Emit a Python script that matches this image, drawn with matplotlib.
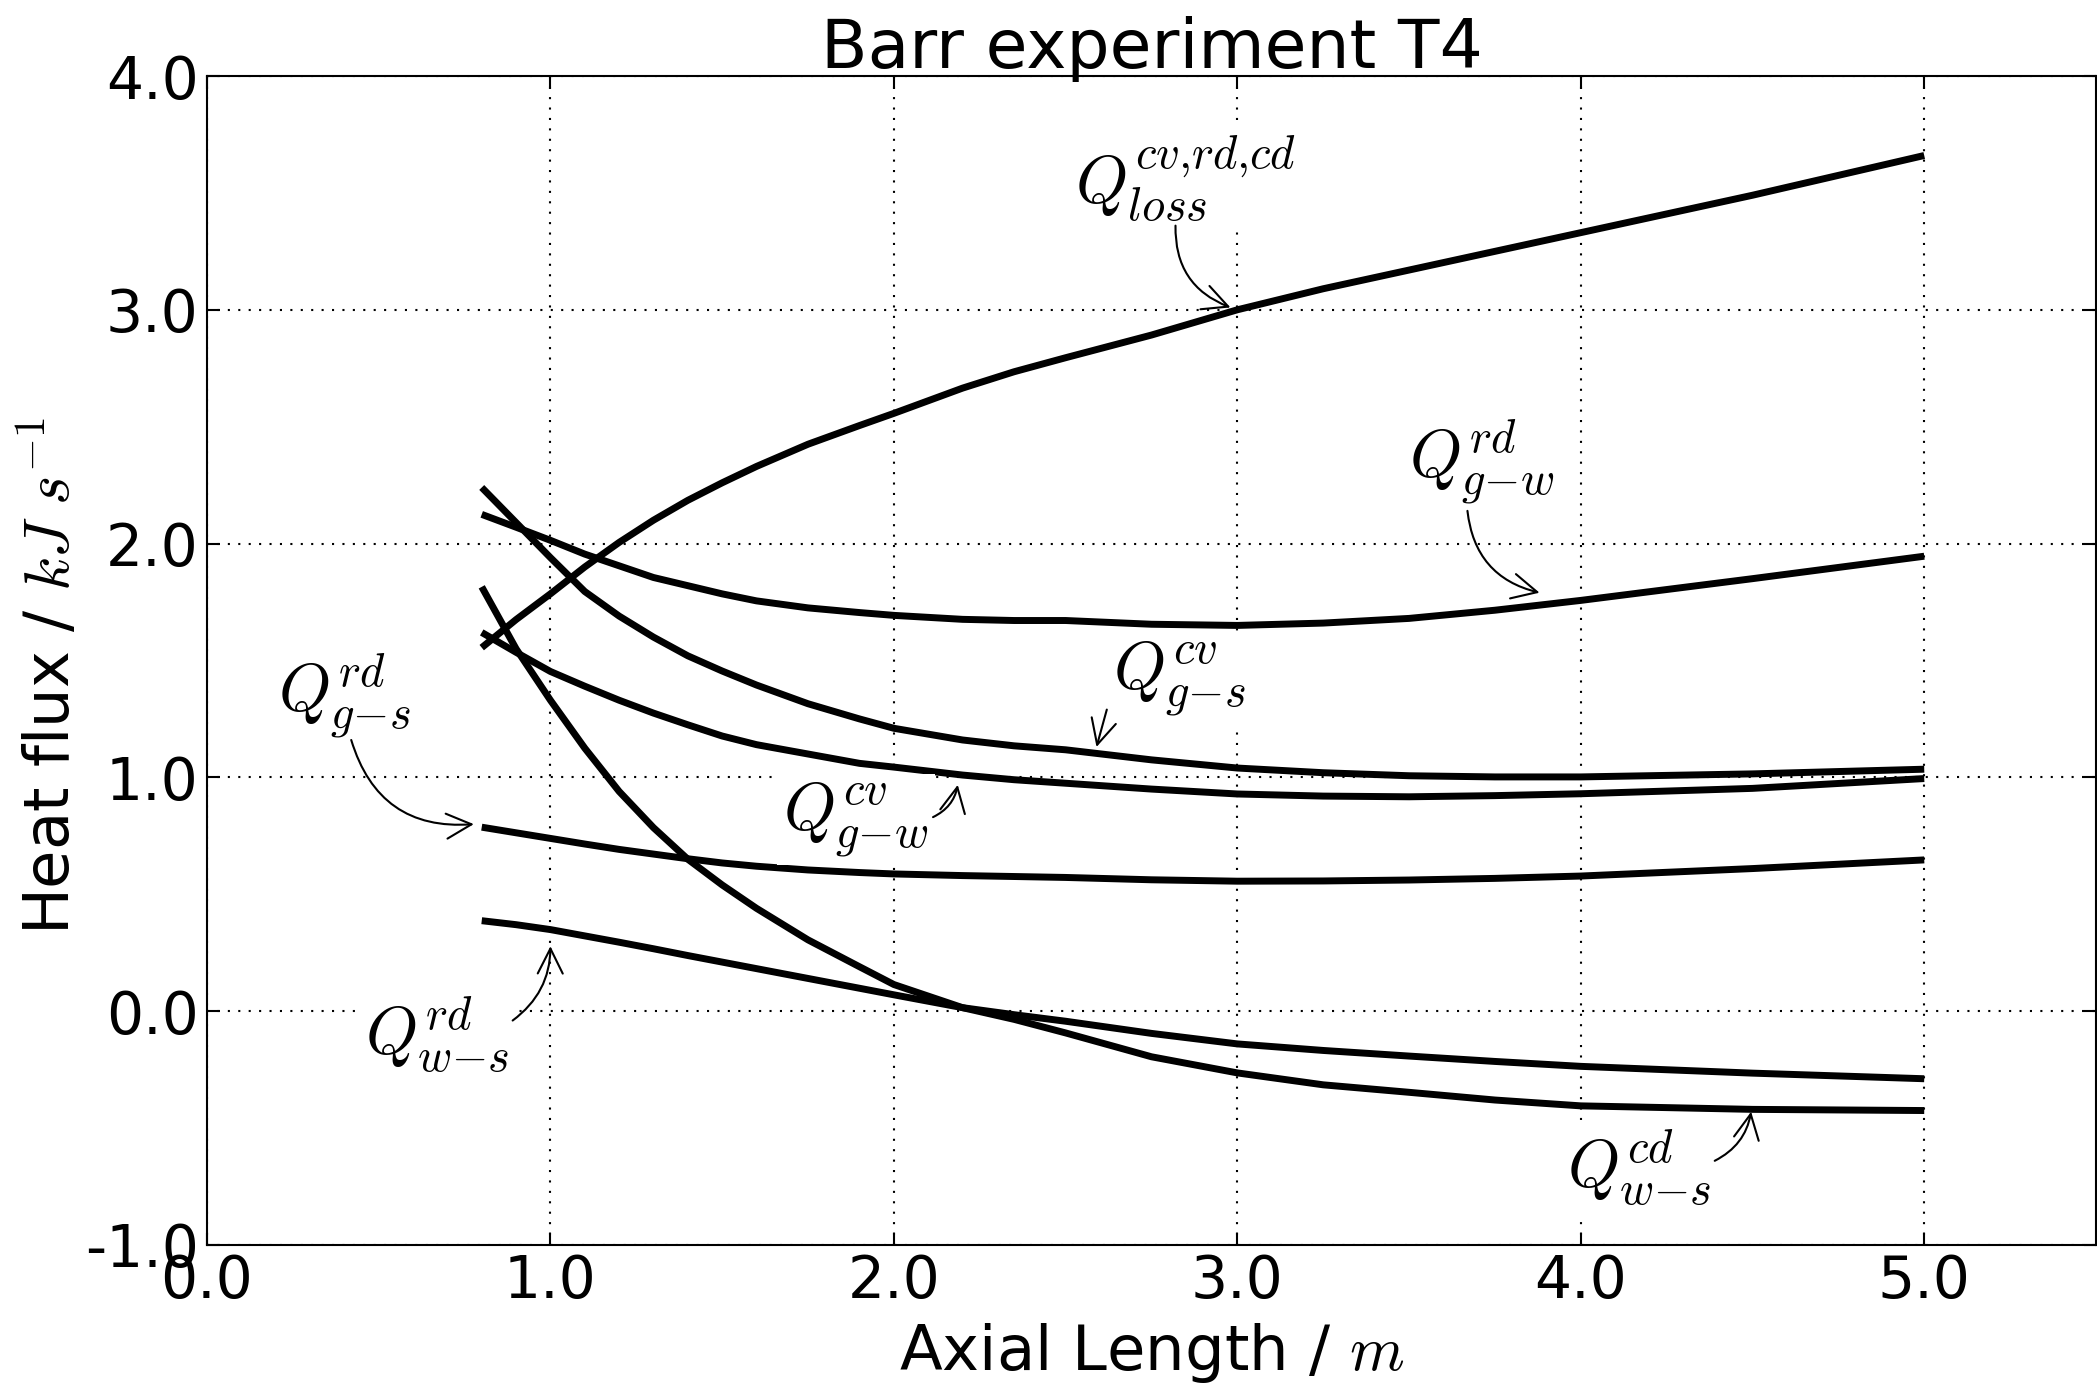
import matplotlib.pyplot as plt

plt.rcParams['mathtext.fontset'] = 'cm'
plt.rcParams['axes.unicode_minus'] = False

# --- data (x in m, heat flux in kJ/s) --- #

axial_length = [0.8, 0.9, 1.0, 1.1, 1.2, 1.3, 1.4, 1.5, 1.6, 1.75, 1.9, 2.0,
                2.2, 2.35, 2.5, 2.75, 3.0, 3.25, 3.5, 3.75, 4.0, 4.5, 5.0]

q_loss = [1.555, 1.675, 1.785, 1.90, 2.005, 2.10, 2.185, 2.26, 2.33, 2.425, 2.505, 2.557,
          2.665, 2.735, 2.795, 2.892, 3.00, 3.09, 3.17, 3.25, 3.33, 3.49, 3.66]
q_rd_gw = [2.125, 2.07, 2.014, 1.955, 1.905, 1.855, 1.82, 1.785, 1.755, 1.725, 1.705, 1.693,
           1.676, 1.671, 1.671, 1.655, 1.650, 1.66, 1.68, 1.715, 1.757, 1.85, 1.946]
q_cv_gs = [2.24, 2.09, 1.94, 1.795, 1.69, 1.60, 1.52, 1.455, 1.395, 1.315, 1.25, 1.21,
           1.16, 1.135, 1.118, 1.075, 1.04, 1.02, 1.007, 1.002, 1.002, 1.015, 1.035]
q_cv_gw = [1.62, 1.535, 1.453, 1.39, 1.33, 1.275, 1.225, 1.177, 1.14, 1.10, 1.06, 1.044,
           1.01, 0.99, 0.975, 0.95, 0.929, 0.92, 0.917, 0.922, 0.93, 0.953, 0.995]
q_rd_gs = [0.787, 0.763, 0.739, 0.715, 0.692, 0.672, 0.652, 0.634, 0.62, 0.604, 0.593, 0.587,
           0.58, 0.576, 0.572, 0.562, 0.556, 0.557, 0.561, 0.568, 0.578, 0.61, 0.647]
q_rd_ws = [0.387, 0.37, 0.349, 0.322, 0.295, 0.267, 0.238, 0.21, 0.182, 0.14, 0.098, 0.07,
           0.015, -0.015, -0.043, -0.095, -0.14, -0.168, -0.192, -0.215, -0.236, -0.265, -0.289]
q_cd_ws = [1.815, 1.55, 1.33, 1.125, 0.94, 0.785, 0.65, 0.54, 0.44, 0.305, 0.19, 0.114,
           0.015, -0.035, -0.093, -0.195, -0.264, -0.315, -0.347, -0.38, -0.405, -0.42, -0.425]

xticks = [0.0, 1.0, 2.0, 3.0, 4.0, 5.0]
yticks = [-1.0, 0.0, 1.0, 2.0, 3.0, 4.0]

# --- figure --- #

fig = plt.figure(figsize=(20.97, 13.87), dpi=100)
ax = fig.add_axes([0.0987, 0.1024, 0.9008, 0.8428])

for serie in [q_loss, q_rd_gw, q_cv_gs, q_cv_gw, q_rd_gs, q_rd_ws, q_cd_ws]:
    ax.plot(axial_length, serie, color='k', lw=5, solid_capstyle='butt')

ax.set_xlim(0, 5.5)
ax.set_ylim(-1, 4)
ax.set_xticks(xticks)
ax.set_xticklabels(['%.1f' % v for v in xticks])
ax.set_yticks(yticks)
ax.set_yticklabels(['%.1f' % v for v in yticks])
ax.grid(True, color='k', linestyle=(0, (1, 4)), lw=1.5)
ax.tick_params(direction='in', length=9, width=1.5, top=True, right=True,
               labelsize=42, pad=6)
for sp in ax.spines.values():
    sp.set_linewidth(1.5)

ax.set_title('Barr experiment T4', fontsize=49, pad=6)
ax.set_xlabel('Axial Length / $m$', fontsize=45, labelpad=8)
ax.set_ylabel('Heat flux / $kJ\\ s^{-1}$', fontsize=45)
ax.yaxis.set_label_coords(-0.0656, 0.487)

# --- annotations : texte, depart de la fleche, pointe, courbure --- #

boite = dict(boxstyle='square,pad=0.1', fc='w', ec='none')

def etiquette(txt, pos, depart, pointe, rad):
    ax.text(pos[0], pos[1], txt, ha='center', va='center', fontsize=48,
            bbox=boite, zorder=3)
    ax.annotate('', xy=pointe, xytext=depart, zorder=4,
                arrowprops=dict(arrowstyle='->', lw=1.5, color='k',
                                mutation_scale=45, shrinkA=0, shrinkB=0,
                                connectionstyle='arc3,rad=%s' % rad))

etiquette(r'$Q_{loss}^{cv{,}rd{,}cd}$', (2.85, 3.56), (2.82, 3.36), (2.98, 3.01), 0.35)
etiquette(r'$Q_{g{-}w}^{rd}$', (3.71, 2.35), (3.67, 2.14), (3.88, 1.79), 0.35)
etiquette(r'$Q_{g{-}s}^{cv}$', (2.83, 1.42), (2.62, 1.29), (2.59, 1.13), 0.0)
etiquette(r'$Q_{g{-}w}^{cv}$', (1.89, 0.82), (2.114, 0.83), (2.186, 0.968), 0.25)
etiquette(r'$Q_{g{-}s}^{rd}$', (0.40, 1.35), (0.42, 1.16), (0.777, 0.80), 0.4)
etiquette(r'$Q_{w{-}s}^{rd}$', (0.67, -0.10), (0.89, -0.04), (1.0, 0.278), 0.25)
etiquette(r'$Q_{w{-}s}^{cd}$', (4.17, -0.67), (4.39, -0.64), (4.496, -0.43), 0.25)

fig.savefig('out.png', dpi=100)
